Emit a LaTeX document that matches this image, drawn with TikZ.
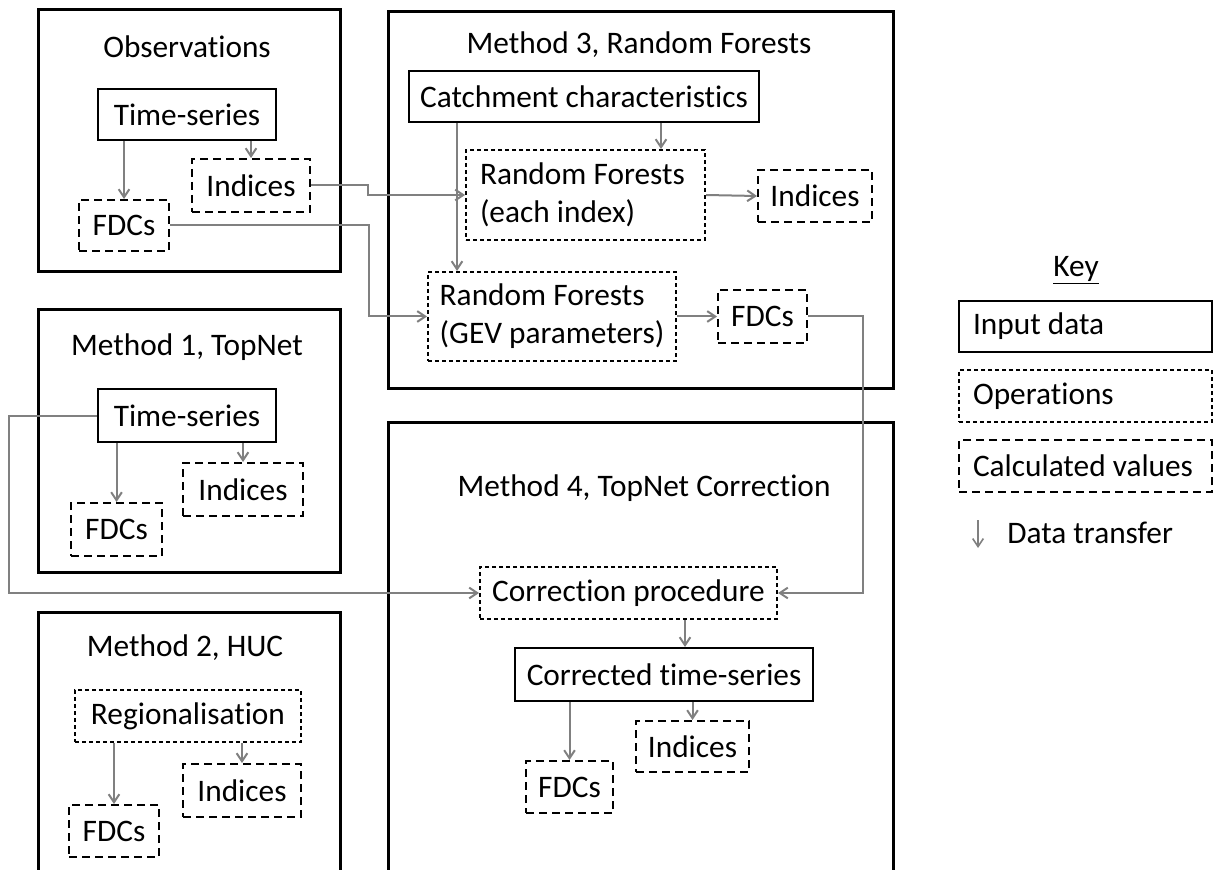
\documentclass[tikz,border=0pt]{standalone}
\usepackage{fontspec}
\setmainfont{Carlito}[Ligatures=NoCommon]
\usetikzlibrary{arrows.meta}
\tikzset{
  outer/.style={draw, line width=2.25pt},
  sz/.style 2 args={minimum width=#1*0.75pt, minimum height=#2*0.75pt},
  inp/.style={draw, line width=1.5pt, inner sep=0pt},
  ops/.style={draw, line width=1.5pt, dash pattern=on 3pt off 2.25pt, inner sep=0pt},
  calc/.style={draw, line width=1.5pt, dash pattern=on 6pt off 3.75pt, inner sep=0pt},
  arr/.style={draw=gray, line width=1.5pt, -{Straight Barb[length=6pt,width=8pt]}},
  ttl/.style={inner sep=0pt},
}
\begin{document}
\begin{tikzpicture}[x=0.75pt, y=-0.75pt, font=\fontsize{23.5}{28.5}\selectfont]
\path[use as bounding box, fill=white] (0,0) rectangle (1215,870);
\clip (0,0) rectangle (1215,870);

% outer frames
\draw[outer] (38,10) rectangle (340,272);
\draw[outer] (388,12) rectangle (893,388);
\draw[outer] (38,310) rectangle (340,572);
\draw[outer] (388,422) rectangle (893,895);
\draw[outer] (38,612) rectangle (340,895);

% Observations
\node[ttl] (obsT) at (187,47) {Observations};
\node[inp, sz={178}{51}] (obsTS) at (187,114.5) {Time-series};
\node[calc, sz={118}{53}] (obsInd) at (251,185.5) {Indices};
\node[calc, sz={90}{51}] (obsFDC) at (124,225.5) {FDCs};

% Method 3
\node[ttl] (m3T) at (639,45) {Method 3, Random Forests};
\node[inp, sz={350}{51}] (cc) at (584,96.5) {Catchment characteristics};
\node[ops, minimum height=67.5pt, text width=158.25pt, inner xsep=10.5pt, align=flush left] (rfe) at (585.5,195) {Random Forests\\(each index)};
\node[calc, sz={114}{52}] (m3Ind) at (815,196) {Indices};
\node[ops, sz={248}{89}, align=left] (gev) at (552,316.5) {Random Forests\\(GEV parameters)};
\node[calc, sz={89}{53}] (m3FDC) at (762.5,316.5) {FDCs};

% Method 1
\node[ttl] (m1T) at (187,347) {Method 1, TopNet};
\node[inp, sz={178}{53}] (m1TS) at (187,415.5) {Time-series};
\node[calc, sz={120}{53}] (m1Ind) at (243,489.5) {Indices};
\node[calc, sz={91}{53}] (m1FDC) at (116.5,529.5) {FDCs};

% Method 4
\node[ttl] (m4T) at (644,488) {Method 4, TopNet Correction};
\node[ops, sz={297}{52}] (cp) at (628.5,593) {Correction procedure};
\node[inp, sz={298}{53}] (cts) at (664,674.5) {Corrected time-series};
\node[calc, sz={113}{51}] (m4Ind) at (692.5,746.5) {Indices};
\node[calc, sz={87}{52}] (m4FDC) at (569.5,787) {FDCs};

% Method 2
\node[ttl] (m2T) at (185,648) {Method 2, HUC};
\node[ops, sz={226}{52}] (reg) at (188,716) {Regionalisation};
\node[calc, sz={118}{53}] (m2Ind) at (242,790.5) {Indices};
\node[calc, sz={90}{52}] (m2FDC) at (114,831) {FDCs};

% Key
\node[ttl] (keyT) at (1076,270) {\underline{Key}};
\node[inp, minimum height=38.25pt, text width=168.75pt, inner xsep=10.5pt, align=flush left] (kIn) at (1085.5,326.5) {Input data};
\node[ops, minimum height=39pt, text width=168.75pt, inner xsep=10.5pt, align=flush left] (kOp) at (1085.5,396) {Operations};
\node[calc, minimum height=39pt, text width=168.75pt, inner xsep=10.5pt, align=flush left] (kCa) at (1085.5,466) {Calculated values};
\coordinate (dt1) at (978,520);
\coordinate (dt2) at (978,548);
\node[ttl, anchor=west] (kDt) at (1007,533) {Data transfer};
\draw[arr, line width=1.2pt] (dt1) -- (dt2);

% helper coordinates for connector x positions
\coordinate (xa) at (457,0);
\coordinate (xb) at (661,0);
\coordinate (xc) at (685,0);
\coordinate (xi) at (368,0);
\coordinate (xf) at (369,0);
\coordinate (xr) at (863,0);
\coordinate (xl) at (9,0);

% connectors inside boxes
\draw[arr] (obsTS.south -| obsFDC.north) -- (obsFDC.north);
\draw[arr] (obsTS.south -| obsInd.north) -- (obsInd.north);
\draw[arr] (m1TS.south -| m1FDC.north) -- (m1FDC.north);
\draw[arr] (m1TS.south -| m1Ind.north) -- (m1Ind.north);
\draw[arr] (reg.south -| m2FDC.north) -- (m2FDC.north);
\draw[arr] (reg.south -| m2Ind.north) -- (m2Ind.north);
\draw[arr] (cts.south -| m4FDC.north) -- (m4FDC.north);
\draw[arr] (cts.south -| m4Ind.north) -- (m4Ind.north);
\draw[arr] (cp.south -| xc) -- (cts.north -| xc);
\draw[arr] (cc.south -| xa) -- (gev.north -| xa);
\draw[arr] (cc.south -| xb) -- (rfe.north -| xb);
\draw[arr] (rfe.east) -- (m3Ind.west);
\draw[arr] (gev.east) -- (m3FDC.west);

% long connectors
\draw[arr] (obsInd.east) -- (obsInd.east -| xi) -- (xi |- rfe.west) -- (rfe.west);
\draw[arr] (obsFDC.east) -- (obsFDC.east -| xf) -- (xf |- gev.west) -- (gev.west);
\draw[arr] (m3FDC.east) -- (m3FDC.east -| xr) -- (xr |- cp.east) -- (cp.east);
\draw[arr] (m1TS.west) -- (m1TS.west -| xl) -- (xl |- cp.west) -- (cp.west);
\end{tikzpicture}
\end{document}
